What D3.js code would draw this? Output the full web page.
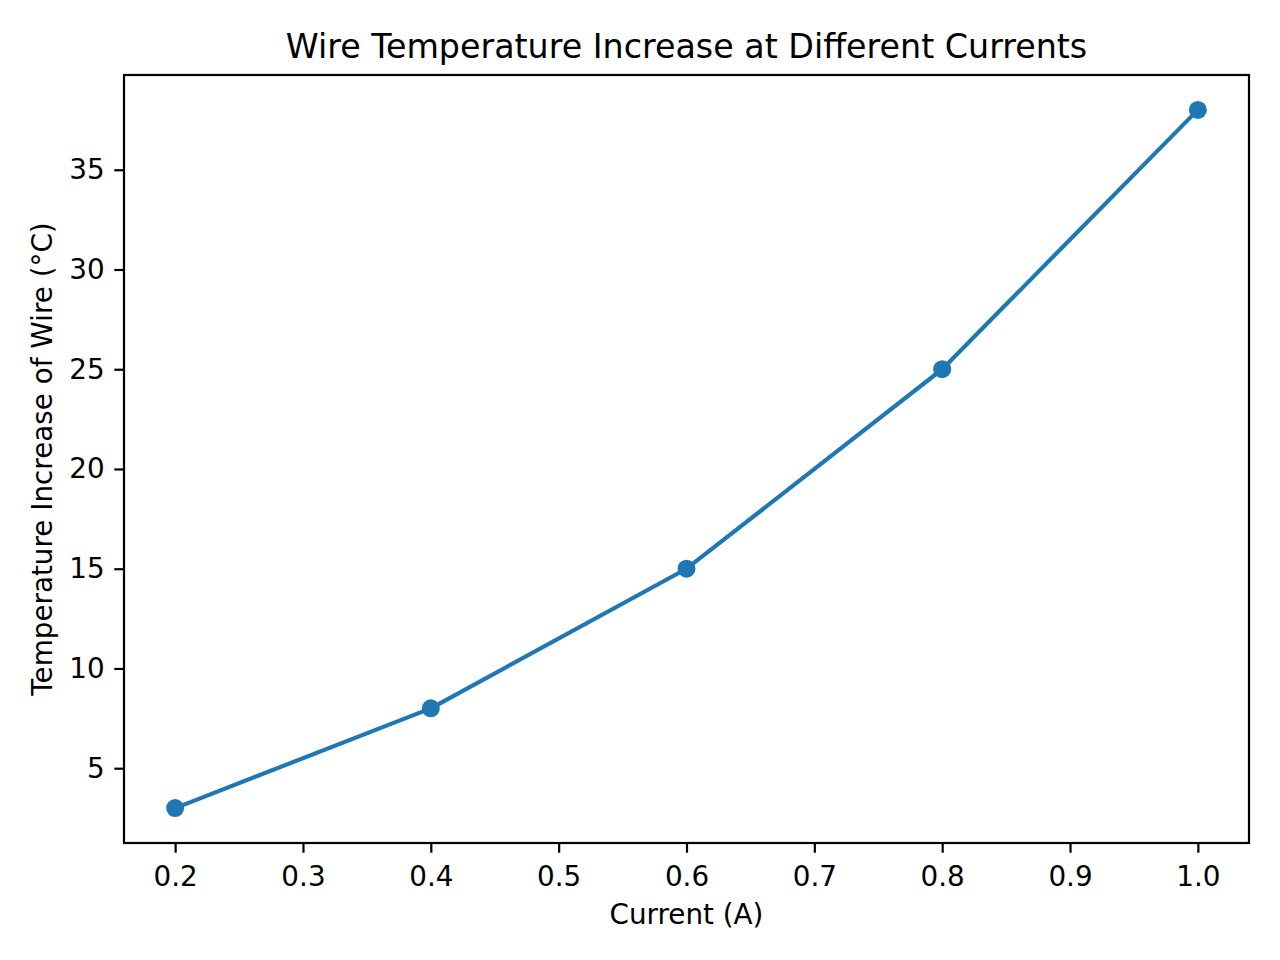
<html>
<head>
    <title>Wire Temperature Increase</title>
    <script src="https://d3js.org/d3.v7.min.js"></script>
    <style>
        body { margin: 0; background: #fff; }
        text { font-family: "DejaVu Sans", sans-serif; fill: #000; }
    </style>
</head>
<body>
<div id="graph"></div>
<script>
    // data
    current = [0.2, 0.4, 0.6, 0.8, 1.0];
    temperature = [3, 8, 15, 25, 38];
    x_ticks = [0.2, 0.3, 0.4, 0.5, 0.6, 0.7, 0.8, 0.9, 1.0];
    y_ticks = [5, 10, 15, 20, 25, 30, 35];

    width = 1280;
    height = 960;
    margin = { top: 75, right: 31, bottom: 117, left: 124 };
    plot_w = width - margin.left - margin.right;
    plot_h = height - margin.top - margin.bottom;
    blue = "#1f77b4";
    tick_len = 9.7;
    tick_pad = 9.7;
    font_px = 27.8;

    svg = d3.select("#graph")
        .append("svg")
            .attr("width", width)
            .attr("height", height);

    g = svg.append("g")
        .attr("transform", `translate(${margin.left},${margin.top})`);

    x = d3.scaleLinear()
        .domain([0.16, 1.04])
        .range([0, plot_w]);
    y = d3.scaleLinear()
        .domain([1.25, 39.75])
        .range([plot_h, 0]);

    xAxis = g.append("g")
        .attr("transform", `translate(0,${plot_h})`)
        .call(d3.axisBottom(x).tickValues(x_ticks).tickFormat(d3.format(".1f"))
            .tickSize(tick_len).tickPadding(tick_pad));
    yAxis = g.append("g")
        .call(d3.axisLeft(y).tickValues(y_ticks).tickFormat(d3.format("d"))
            .tickSize(tick_len).tickPadding(tick_pad));

    [xAxis, yAxis].forEach(function(a) {
        a.select(".domain").remove();
        a.selectAll("line").attr("stroke", "#000").attr("stroke-width", 2.2);
        a.selectAll("text")
            .style("font-family", "DejaVu Sans")
            .style("font-size", font_px + "px")
            .attr("fill", "#000");
    });
    xAxis.selectAll("text").attr("dy", "0.85em");

    // frame
    g.append("rect")
        .attr("width", plot_w)
        .attr("height", plot_h)
        .attr("fill", "none")
        .attr("stroke", "#000")
        .attr("stroke-width", 2.2);

    data_packed = [];
    for (i = 0; i < current.length; ++i) {
        data_packed.push({ c: current[i], t: temperature[i] });
    }

    g.append("path")
        .datum(data_packed)
        .attr("fill", "none")
        .attr("stroke", blue)
        .attr("stroke-width", 4.17)
        .attr("stroke-linejoin", "round")
        .attr("d", d3.line()
            .x(function(d) { return x(d.c); })
            .y(function(d) { return y(d.t); })
        );

    g.selectAll("circle")
        .data(data_packed)
        .enter().append("circle")
            .attr("cx", function(d) { return x(d.c); })
            .attr("cy", function(d) { return y(d.t); })
            .attr("r", 9)
            .attr("fill", blue);

    svg.append("text")
        .attr("x", margin.left + plot_w / 2)
        .attr("y", margin.top - 16.7)
        .attr("text-anchor", "middle")
        .style("font-size", "33.3px")
        .text("Wire Temperature Increase at Different Currents");

    svg.append("text")
        .attr("x", margin.left + plot_w / 2)
        .attr("y", 924)
        .attr("text-anchor", "middle")
        .style("font-size", font_px + "px")
        .text("Current (A)");

    svg.append("text")
        .attr("transform", `translate(52,${margin.top + plot_h / 2}) rotate(-90)`)
        .attr("text-anchor", "middle")
        .style("font-size", font_px + "px")
        .text("Temperature Increase of Wire (°C)");
</script>
</body>
</html>
